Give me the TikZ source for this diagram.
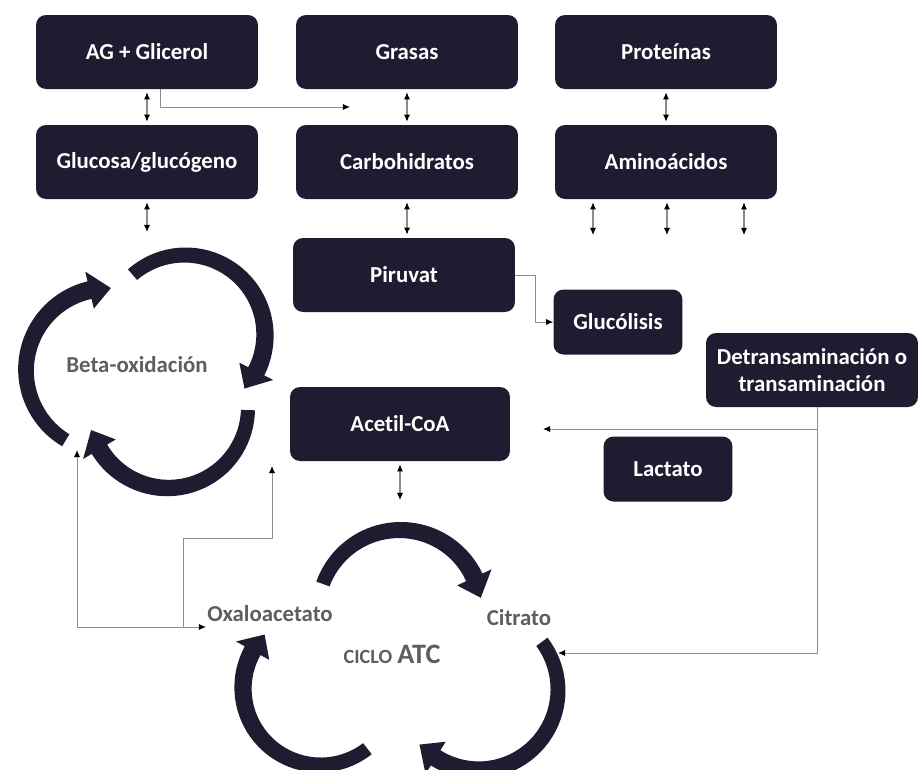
\documentclass[tikz,border=0pt]{standalone}
\usepackage{fontspec}
\setmainfont{Carlito}[Ligatures=NoCommon]
\usetikzlibrary{arrows.meta}

\definecolor{boxcol}{HTML}{1D1C30}
\definecolor{linecol}{HTML}{8C8C8C}
\definecolor{labcol}{HTML}{5E5E5E}

\newcommand{\boxfont}{\fontsize{13}{15.5}\selectfont\bfseries}

% tapered circular arrow: centre x, centre y, radius, start angle, end angle
\newcommand{\cycarrow}[5]{%
  \fill[boxcol]
    plot[domain=#4:#5, samples=40] ({#1+(#3+7+2*(\x-#4)/(#5-#4))*cos(\x)}, {#2+(#3+7+2*(\x-#4)/(#5-#4))*sin(\x)})
    -- ({#1+(#3+19)*cos(#5)}, {#2+(#3+19)*sin(#5)})
    -- ({#1+#3*cos(#5+15)}, {#2+#3*sin(#5+15)})
    -- ({#1+(#3-19)*cos(#5)}, {#2+(#3-19)*sin(#5)})
    -- plot[domain=#5:#4, samples=40] ({#1+(#3-7-2*(\x-#4)/(#5-#4))*cos(\x)}, {#2+(#3-7-2*(\x-#4)/(#5-#4))*sin(\x)})
    -- cycle;}

\begin{document}
\begin{tikzpicture}[x=0.02cm, y=-0.02cm,
    box/.style={fill=boxcol, rounded corners=0.2cm, text=white, font=\boxfont,
        minimum width=4.44cm, minimum height=1.48cm, align=center, inner sep=0pt},
    smallbox/.style={box, minimum width=2.58cm, minimum height=1.3cm},
    conn/.style={draw=linecol, line width=0.5pt, -{Latex[length=4pt,width=3.5pt,color=black]}},
    dbl/.style={draw=linecol, line width=0.6pt,
        {Latex[length=4pt,width=3.5pt,color=black]}-{Latex[length=4pt,width=3.5pt,color=black]},
        shorten <=0.06cm, shorten >=0.06cm},
    cyclab/.style={text=labcol, font=\boxfont}]
    \useasboundingbox (0,0) rectangle (920,769);

    % Top row of sources
    \node[box] (agg) at (147,52) {AG + Glicerol};
    \node[box] (grasas) at (407,52) {Grasas};
    \node[box] (prot) at (666,52) {Proteínas};

    % Second row
    \node[box] (gluc) at (147,162) {Glucosa/glucógeno};
    \node[box] (carb) at (407,162) {Carbohidratos};
    \node[box] (amino) at (666,162) {Aminoácidos};

    % Middle boxes
    \node[box] (piruvat) at (404,275) {Piruvat};
    \node[smallbox] (glucolisis) at (618,322) {Glucólisis};
    \node[box, minimum width=4.24cm] (detrans) at (812,370) {Detransaminación o\\transaminación};
    \node[box, minimum width=4.4cm] (acetil) at (400,424) {Acetil-CoA};
    \node[smallbox] (lactato) at (668,469) {Lactato};

    % Free ends of the connectors
    \coordinate (aggout) at (350,107);
    \coordinate (glucout) at (147,235);
    \coordinate (aa1) at (593,238);
    \coordinate (aa2) at (667,238);
    \coordinate (aa3) at (744,238);
    \coordinate (acetilout) at (400,503);
    \coordinate (acin) at (543,429);
    \coordinate (citin) at (558,653);
    \coordinate (betain) at (77,450);
    \coordinate (oxain) at (206,627);
    \coordinate (oxasplit) at (183,627);
    \coordinate (acetilin) at (272,466);

    % Beta-oxidacion cycle
    \cycarrow{108}{370}{82}{121}{257}
    \cycarrow{185}{335}{80}{229}{387}
    \cycarrow{168}{408}{80}{1.5}{149}
    \node[cyclab] (beta) at (137,365) {Beta-oxidación};

    % Krebs cycle (ciclo ATC)
    \cycarrow{400}{612}{82}{200}{335}
    \cycarrow{478}{690}{80}{323}{482}
    \cycarrow{320}{688}{77}{52}{209}
    \node[cyclab] (oxa) at (270,614) {Oxaloacetato};
    \node[cyclab] (citrato) at (519,618) {Citrato};
    \node[cyclab] (atc) at (392,654) {{\fontsize{11.5}{13}\selectfont CICLO} {\fontsize{16}{18}\selectfont ATC}};

    % Double arrows between the boxes
    \draw[dbl] (agg) -- (gluc);
    \draw[dbl] (grasas) -- (carb);
    \draw[dbl] (prot) -- (amino);
    \draw[dbl] (gluc.south) -- (glucout);
    \draw[dbl] (carb.south) -- (carb.south |- piruvat.north);
    \draw[dbl] (amino.south -| aa1) -- (aa1);
    \draw[dbl] (amino.south -| aa2) -- (aa2);
    \draw[dbl] (amino.south -| aa3) -- (aa3);
    \draw[dbl] (acetil.south) -- (acetilout);

    % Single arrows
    \draw[conn] ([xshift=0.26cm]agg.south) |- (aggout);
    \draw[conn] (piruvat.east) -- ++(20,0) |- (glucolisis.west);
    \draw[conn] ([xshift=0.1cm]detrans.south) |- (acin);
    \draw[conn] ([xshift=0.1cm]detrans.south) |- (citin);

    % Oxaloacetato links
    \draw[conn, {Latex[length=4pt,width=3.5pt,color=black]}-{Latex[length=4pt,width=3.5pt,color=black]}] (betain) |- (oxain);
    \draw[conn] (oxasplit) -- ++(0,-89) -| (acetilin);
\end{tikzpicture}
\end{document}
